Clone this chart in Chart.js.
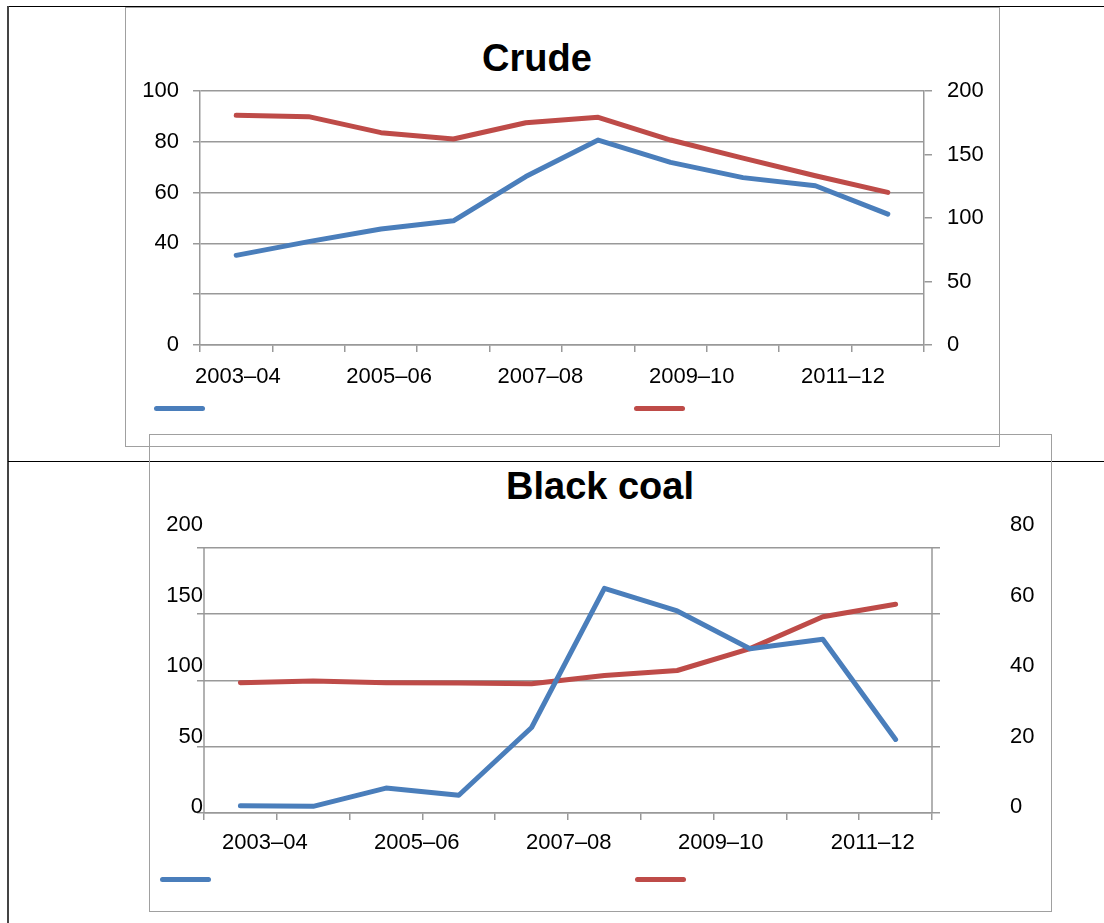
<!DOCTYPE html>
<html>
<head>
<meta charset="utf-8">
<script src="https://cdn.jsdelivr.net/npm/chart.js@4.4.1/dist/chart.umd.min.js"></script>
<style>
  body { margin: 0; background: #fff; }
  #page { position: relative; width: 1104px; height: 923px; overflow: hidden; font-family: "Liberation Sans", Arial, sans-serif; }
  .rule { position: absolute; background: #000; }
  .frame { position: absolute; border: 1.5px solid #a0a0a0; box-sizing: border-box; }
  .title { position: absolute; font-weight: bold; font-size: 38px; line-height: 1; transform: translateX(-50%); white-space: nowrap; color: #000; }
  .swatch { position: absolute; width: 51px; height: 5px; border-radius: 3px; }
  canvas { position: absolute; }
</style>
</head>
<body>
<div id="page">
  <!-- table rules -->
  <div class="rule" style="left:8px; top:6px; width:1096px; height:1px;"></div>
  <div class="rule" style="left:7px; top:6px; width:2px; height:917px; background:#444;"></div>
  <div class="rule" style="left:8px; top:461px; width:1096px; height:1px;"></div>

  <!-- chart frames -->
  <div class="frame" style="left:125px; top:7px; width:875px; height:440px;"></div>
  <div class="frame" style="left:149px; top:434px; width:903px; height:478px;"></div>

  <div class="title" style="left:537px; top:39px;">Crude</div>
  <div class="title" style="left:600px; top:467px;">Black coal</div>

  <div class="swatch" id="crudeKey1" style="left:154px; top:406px;"></div>
  <div class="swatch" id="crudeKey2" style="left:634px; top:406px;"></div>
  <div class="swatch" id="coalKey1" style="left:160px; top:877px;"></div>
  <div class="swatch" id="coalKey2" style="left:635px; top:877px;"></div>

  <canvas id="crudeChart" width="874" height="439" style="left:125px; top:7px;"></canvas>
  <canvas id="coalChart" width="903" height="477" style="left:149px; top:434px;"></canvas>
</div>

<script>
// categories (financial years)
const categories = ['2003–04', '2004–05', '2005–06', '2006–07', '2007–08',
                    '2008–09', '2009–10', '2010–11', '2011–12', '2012–13'];
const labelledYears = [0, 2, 4, 6, 8];

// Crude: blue on left axis, red on right axis
const crudeBlue = [35.3, 40.7, 45.7, 48.9, 66.3, 80.7, 71.9, 65.9, 62.7, 51.5];
const crudeRed = [180.9, 179.8, 167.2, 162.2, 175.0, 179.3, 161.4, 147.2, 133.3, 120.2];
const crudeLeftTicks = [0, 20, 40, 60, 80, 100];
const crudeLeftLabels = ['0', '', '40', '60', '80', '100'];
const crudeRightTicks = [0, 50, 100, 150, 200];

// Black coal: blue on left axis, red on right axis
const coalBlue = [5.4, 5.0, 18.8, 13.4, 64.5, 169.5, 152.4, 123.9, 131.1, 55.5];
const coalRed = [39.3, 39.8, 39.3, 39.2, 39.0, 41.5, 43.0, 49.6, 59.2, 63.0];
const coalLeftTicks = [0, 50, 100, 150, 200];
const coalRightTicks = [0, 20, 40, 60, 80];

const BLUE = '#4a7ebb';
const RED = '#be4b48';
const GRID = '#999999';
const FONT = { family: '"Liberation Sans", Arial, sans-serif', size: 22 };

document.getElementById('crudeKey1').style.background = BLUE;
document.getElementById('crudeKey2').style.background = RED;
document.getElementById('coalKey1').style.background = BLUE;
document.getElementById('coalKey2').style.background = RED;

function setTicks(values) {
    return axis => { axis.ticks = values.map(v => ({ value: v })); };
}
function setWidth(w) {
    return axis => { axis.width = w; };
}
function setHeight(h) {
    return axis => { axis.height = h; };
}

function lineSet(data, color, yAxisID) {
    return {
        data: data,
        borderColor: color,
        backgroundColor: color,
        borderWidth: 5,
        borderJoinStyle: 'round',
        borderCapStyle: 'round',
        pointRadius: 0,
        tension: 0,
        yAxisID: yAxisID
    };
}

// category axis: holds the data, draws the axis line and tick marks only
function categoryAxis() {
    return {
        type: 'category',
        offset: true,
        weight: 0,
        grid: { offset: true, drawOnChartArea: false, tickLength: 7, color: GRID, lineWidth: 1.5 },
        border: { display: true, color: GRID, width: 1.5 },
        ticks: { display: false },
        afterFit: setHeight(7)
    };
}

// label axis: every other year, placed as in the original
function yearLabelAxis(min, max, pad) {
    return {
        type: 'linear',
        position: 'bottom',
        weight: 10,
        min: min,
        max: max,
        grid: { display: false, drawTicks: false },
        border: { display: false },
        afterBuildTicks: setTicks(labelledYears),
        ticks: {
            autoSkip: false,
            maxRotation: 0,
            padding: pad,
            color: '#000',
            font: FONT,
            callback: v => categories[v]
        },
        afterFit: setHeight(50)
    };
}

// Crude chart
new Chart(document.getElementById('crudeChart'), {
    type: 'line',
    data: {
        labels: categories,
        datasets: [
            lineSet(crudeBlue, BLUE, 'y'),
            lineSet(crudeRed, RED, 'y2')
        ]
    },
    options: {
        responsive: false,
        animation: false,
        devicePixelRatio: 1,
        layout: { padding: { top: 84, left: 0, right: 0, bottom: 44 } },
        plugins: { legend: { display: false }, tooltip: { enabled: false } },
        scales: {
            x: categoryAxis(),
            xl: yearLabelAxis(-0.5, 9.07, 12),
            y: {
                position: 'left',
                min: 0,
                max: 100,
                afterBuildTicks: setTicks(crudeLeftTicks),
                grid: { color: GRID, lineWidth: 1.5, tickLength: 7 },
                border: { display: true, color: GRID, width: 1.5 },
                ticks: {
                    padding: 14,
                    color: '#000',
                    font: FONT,
                    callback: (v, i) => crudeLeftLabels[i]
                },
                afterFit: setWidth(75)
            },
            y2: {
                position: 'right',
                min: 0,
                max: 200,
                afterBuildTicks: setTicks(crudeRightTicks),
                grid: { drawOnChartArea: false, color: GRID, lineWidth: 1.5, tickLength: 8 },
                border: { display: true, color: GRID, width: 1.5 },
                ticks: { padding: 15, color: '#000', font: FONT },
                afterFit: setWidth(75)
            }
        }
    }
});

// the coal chart's axis lines stop at the top gridline, not at the top of the area
const edgeLines = {
    id: 'edgeLines',
    beforeDatasetsDraw(chart) {
        const { ctx, chartArea, scales } = chart;
        const top = scales.y.getPixelForValue(coalLeftTicks[coalLeftTicks.length - 1]);
        ctx.save();
        ctx.strokeStyle = GRID;
        ctx.lineWidth = 1.5;
        [chartArea.left, chartArea.right].forEach(x => {
            ctx.beginPath();
            ctx.moveTo(x, top);
            ctx.lineTo(x, chartArea.bottom);
            ctx.stroke();
        });
        ctx.restore();
    }
};

// Black coal chart: gridlines and labels sit on separate axes, as in the original
new Chart(document.getElementById('coalChart'), {
    type: 'line',
    data: {
        labels: categories,
        datasets: [
            lineSet(coalBlue, BLUE, 'y'),
            lineSet(coalRed, RED, 'y2')
        ]
    },
    plugins: [edgeLines],
    options: {
        responsive: false,
        animation: false,
        devicePixelRatio: 1,
        layout: { padding: { top: 87, left: 0, right: 0, bottom: 41 } },
        plugins: { legend: { display: false }, tooltip: { enabled: false } },
        scales: {
            x: categoryAxis(),
            xl: yearLabelAxis(-0.8, 8.78, 10),
            y: {
                position: 'left',
                weight: 0,
                min: 0,
                max: 217.1,
                afterBuildTicks: setTicks(coalLeftTicks),
                grid: { color: GRID, lineWidth: 1.5, tickLength: 7 },
                border: { display: false },
                ticks: { display: false },
                afterFit: setWidth(0)
            },
            yl: {
                position: 'left',
                weight: 10,
                min: -4.2,
                max: 200,
                afterBuildTicks: setTicks(coalLeftTicks),
                grid: { display: false, drawTicks: false },
                border: { display: false },
                ticks: { padding: 1, color: '#000', font: FONT },
                afterFit: setWidth(55)
            },
            y2: {
                position: 'right',
                weight: 0,
                min: 0,
                max: 86.84,
                afterBuildTicks: setTicks(coalRightTicks),
                grid: { drawOnChartArea: false, color: GRID, lineWidth: 1.5, tickLength: 8 },
                border: { display: false },
                ticks: { display: false },
                afterFit: setWidth(0)
            },
            y2l: {
                position: 'right',
                weight: 10,
                min: -1.68,
                max: 80,
                afterBuildTicks: setTicks(coalRightTicks),
                grid: { display: false, drawTicks: false },
                border: { display: false },
                ticks: { padding: 78, color: '#000', font: FONT },
                afterFit: setWidth(120)
            }
        }
    }
});
</script>
</body>
</html>
